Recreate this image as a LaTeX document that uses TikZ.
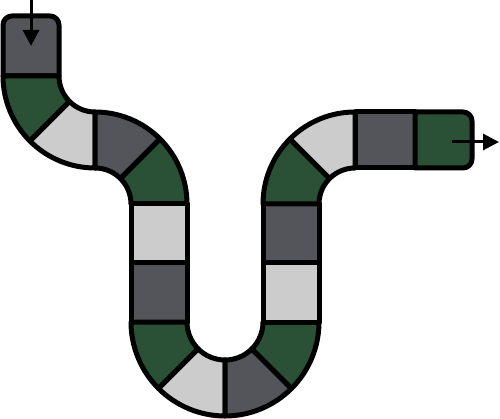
\documentclass[tikz,border=0pt]{standalone}
\usetikzlibrary{arrows.meta,calc}
\definecolor{dkgray}{HTML}{54555A}
\definecolor{ltgray}{HTML}{CCCCCC}
\definecolor{dkgreen}{HTML}{2A5135}
\tikzset{
  tile/.style={draw=black, line width=5pt, line join=round, fill=#1},
  flowarrow/.style={line width=3pt, -{Triangle[length=16pt,width=16pt]}}
}
% sector: center x, center y, start angle, end angle, inner r, outer r, colour
\newcommand{\tilesector}[7]{%
  \draw[tile=#7] ($(#1,#2)+(#3:#6)$) arc[start angle=#3, end angle=#4, radius=#6]
    -- ($(#1,#2)+(#4:#5)$) arc[start angle=#4, end angle=#3, radius=#5] -- cycle;}
\newcommand{\tilerect}[5]{%
  \draw[tile=#5] (#1,#2) rectangle (#3,#4);}
\begin{document}
\begin{tikzpicture}[x=1pt,y=1pt,yscale=-1]
\useasboundingbox (0,0) rectangle (500,419);
% start tile
\draw[tile=dkgray] (3,76) [rounded corners=9pt] -- (3,16) -- (59,16) [sharp corners] -- (59,76) -- cycle;
% curve 1
\tilesector{95}{76}{180}{135}{36}{92}{dkgreen}
\tilesector{95}{76}{135}{90}{36}{92}{ltgray}
% curve 2
\tilesector{95}{204}{270}{315}{36}{92}{dkgray}
\tilesector{95}{204}{315}{360}{36}{92}{dkgreen}
% left vertical
\tilerect{131}{204}{187}{263}{ltgray}
\tilerect{131}{263}{187}{322}{dkgray}
% U bottom
\tilesector{225}{322}{180}{135}{38}{94}{dkgreen}
\tilesector{225}{322}{135}{90}{38}{94}{ltgray}
\tilesector{225}{322}{90}{45}{38}{94}{dkgray}
\tilesector{225}{322}{45}{0}{38}{94}{dkgreen}
% right vertical
\tilerect{263}{263}{319}{322}{ltgray}
\tilerect{263}{204}{319}{263}{dkgray}
% curve 3
\tilesector{355}{204}{180}{225}{36}{92}{dkgreen}
\tilesector{355}{204}{225}{270}{36}{92}{ltgray}
% end tiles
\tilerect{355}{112}{415}{168}{dkgray}
\draw[tile=dkgreen] (415,112) [rounded corners=9pt] -- (472,112) -- (472,168) [sharp corners] -- (415,168) -- cycle;
% arrows
\coordinate (inS) at (31,0);
\coordinate (inE) at (31,46);
\coordinate (outS) at (452,142);
\coordinate (outE) at (499,142);
\draw[flowarrow] (inS) -- (inE);
\draw[flowarrow] (outS) -- (outE);
\end{tikzpicture}
\end{document}
